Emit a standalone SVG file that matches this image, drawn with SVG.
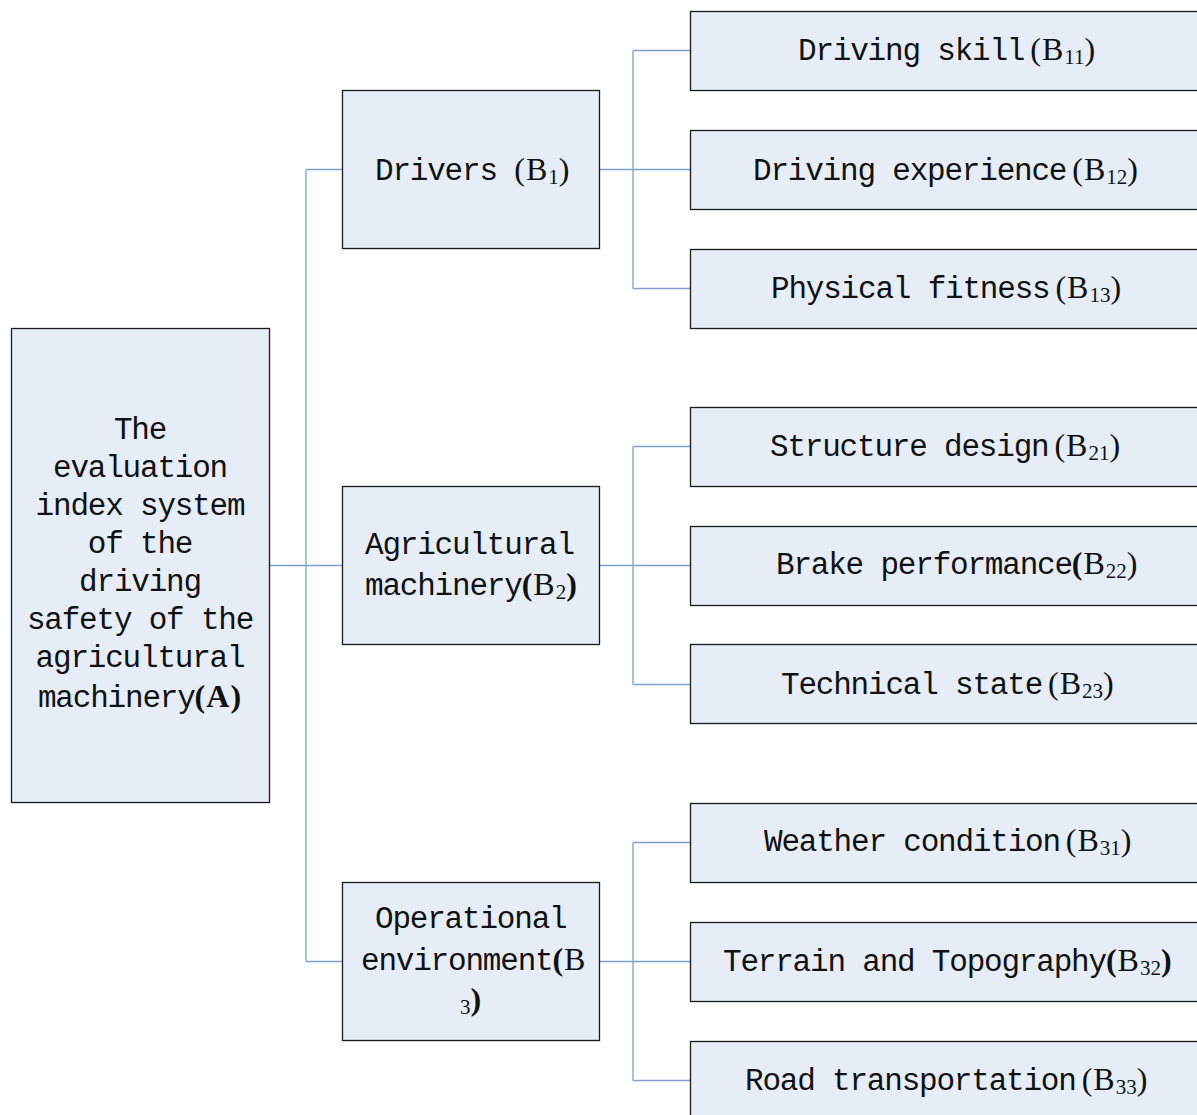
<svg xmlns="http://www.w3.org/2000/svg" width="1197" height="1115" viewBox="0 0 1197 1115">
<style>
.box{fill:#E6EDF7;stroke:#1a1a1a;stroke-width:1.3}
.m{font-family:"Liberation Mono","DejaVu Sans Mono",monospace;font-size:31px;letter-spacing:-1.2px;fill:#111}
.s{font-family:"Liberation Serif","Times New Roman",serif;font-size:32px;letter-spacing:1px}
.sub{font-family:"Liberation Serif","Times New Roman",serif;font-size:21px;letter-spacing:0}
.b{font-weight:bold}
.con{fill:none;stroke:#7F9FD0;stroke-width:1.3}
</style>
<rect width="1197" height="1115" fill="#ffffff"/>
<g id="connectors">
<path class="con" d="M269,565.5H342M306,169.5V961.5M306,169.5H342M306,961.5H342"/>
<path class="con" d="M600,169.5H690M633,50.5V288.5M633,50.5H690M633,288.5H690"/>
<path class="con" d="M600,565.5H690M633,446.5V684.5M633,446.5H690M633,684.5H690"/>
<path class="con" d="M600,961.5H690M633,842.5V1080.5M633,842.5H690M633,1080.5H690"/>
</g>
<g id="A">
<rect class="box" x="11.5" y="328.5" width="258" height="474"/>
<text class="m" text-anchor="middle"><tspan x="140" y="439">The</tspan><tspan x="140" y="477">evaluation</tspan><tspan x="140" y="515">index system</tspan><tspan x="140" y="553">of the</tspan><tspan x="140" y="591">driving</tspan><tspan x="140" y="629">safety of the</tspan><tspan x="140" y="667">agricultural</tspan><tspan x="140" y="707">machinery<tspan class="s b">(A)</tspan></tspan></text>
</g>
<g id="B1">
<rect class="box" x="342.5" y="90.5" width="257" height="158"/>
<text class="m" x="375" y="180">Drivers <tspan class="s">(B</tspan><tspan class="sub" dy="4">1</tspan><tspan class="s" dy="-4">)</tspan></text>
</g>
<g id="B2">
<rect class="box" x="342.5" y="486.5" width="257" height="158"/>
<text class="m"><tspan x="365" y="554">Agricultural</tspan><tspan x="365" y="595">machinery</tspan><tspan class="s b">(</tspan><tspan class="s">B</tspan><tspan class="sub" dy="4">2</tspan><tspan class="s b" dy="-4">)</tspan></text>
</g>
<g id="B3">
<rect class="box" x="342.5" y="882.5" width="257" height="158"/>
<text class="m"><tspan x="375" y="928">Operational</tspan><tspan x="361" y="970">environment</tspan><tspan class="s b">(</tspan><tspan class="s">B</tspan><tspan class="sub" x="460" y="1014">3</tspan><tspan class="s b" y="1010">)</tspan></text>
</g>
<g id="B11">
<rect class="box" x="690.5" y="11.5" width="520" height="79"/>
<text class="m" x="798" y="60">Driving skill<tspan class="s" dx="6">(B</tspan><tspan class="sub" dy="4">11</tspan><tspan class="s" dy="-4">)</tspan></text>
</g>
<g id="B12">
<rect class="box" x="690.5" y="130.5" width="520" height="79"/>
<text class="m" x="753" y="180">Driving experience<tspan class="s" dx="6">(B</tspan><tspan class="sub" dy="4">12</tspan><tspan class="s" dy="-4">)</tspan></text>
</g>
<g id="B13">
<rect class="box" x="690.5" y="249.5" width="520" height="79"/>
<text class="m" x="771" y="298">Physical fitness<tspan class="s" dx="6">(B</tspan><tspan class="sub" dy="4">13</tspan><tspan class="s" dy="-4">)</tspan></text>
</g>
<g id="B21">
<rect class="box" x="690.5" y="407.5" width="520" height="79"/>
<text class="m" x="770" y="456">Structure design<tspan class="s" dx="6">(B</tspan><tspan class="sub" dy="4">21</tspan><tspan class="s" dy="-4">)</tspan></text>
</g>
<g id="B22">
<rect class="box" x="690.5" y="526.5" width="520" height="79"/>
<text class="m" x="776" y="574">Brake performance<tspan class="s b">(</tspan><tspan class="s">B</tspan><tspan class="sub" dy="4">22</tspan><tspan class="s" dy="-4">)</tspan></text>
</g>
<g id="B23">
<rect class="box" x="690.5" y="644.5" width="520" height="79"/>
<text class="m" x="781" y="694">Technical state<tspan class="s" dx="6">(B</tspan><tspan class="sub" dy="4">23</tspan><tspan class="s" dy="-4">)</tspan></text>
</g>
<g id="B31">
<rect class="box" x="690.5" y="803.5" width="520" height="79"/>
<text class="m" x="764" y="851">Weather condition<tspan class="s" dx="6">(B</tspan><tspan class="sub" dy="4">31</tspan><tspan class="s" dy="-4">)</tspan></text>
</g>
<g id="B32">
<rect class="box" x="690.5" y="922.5" width="520" height="79"/>
<text class="m" x="723" y="971">Terrain and Topography<tspan class="s b">(</tspan><tspan class="s">B</tspan><tspan class="sub" dy="4">32</tspan><tspan class="s b" dy="-4">)</tspan></text>
</g>
<g id="B33">
<rect class="box" x="690.5" y="1041.5" width="520" height="79"/>
<text class="m" x="745" y="1090">Road transportation<tspan class="s" dx="6">(B</tspan><tspan class="sub" dy="4">33</tspan><tspan class="s" dy="-4">)</tspan></text>
</g>
</svg>
